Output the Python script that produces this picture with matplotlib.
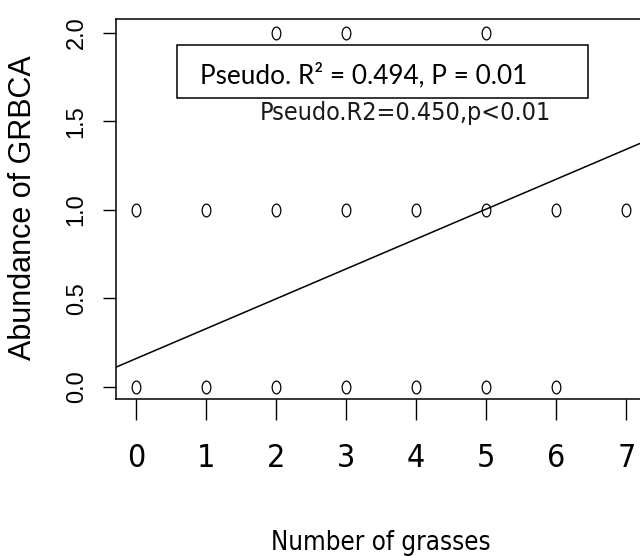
import matplotlib
matplotlib.use("Agg")
import matplotlib.pyplot as plt
from matplotlib.path import Path
from matplotlib.transforms import Affine2D
from matplotlib.patches import Rectangle
from matplotlib import font_manager as fm

# ---- data ----
grasses = [0, 1, 2, 3, 4, 5, 6, 0, 1, 2, 3, 4, 5, 6, 7, 2, 3, 5]
abundance = [0, 0, 0, 0, 0, 0, 0, 1, 1, 1, 1, 1, 1, 1, 1, 2, 2, 2]
fit_intercept = 0.16
fit_slope = 0.169
x_ticks = [0, 1, 2, 3, 4, 5, 6, 7]
y_ticks = [0.0, 0.5, 1.0, 1.5, 2.0]
y_tick_labels = ["0.0", "0.5", "1.0", "1.5", "2.0"]
x_label = "Number of grasses"
y_label = "Abundance of GRBCA"
box_text = "Pseudo. R\u00b2 = 0.494, P = 0.01"
fit_text = "Pseudo.R2=0.450,p<0.01"

NARROW = fm.FontProperties(family="DejaVu Sans", stretch="condensed")
ARIAL = ["Liberation Sans", "DejaVu Sans"]
CALIBRI = ["Lato", "DejaVu Sans"]

fig = plt.figure(figsize=(6.4, 5.56), dpi=100)
ax = fig.add_axes([0.18125, 0.2824, 0.828, 0.6835])

ell = Affine2D().scale(0.68, 1.0).transform_path(Path.unit_circle())
ax.plot(grasses, abundance, linestyle="none", marker=ell, markersize=9.2,
        markerfacecolor="none", markeredgecolor="black", markeredgewidth=0.9)

ax.axline((0, fit_intercept), slope=fit_slope, color="black", lw=1.1)

ax.set_xlim(-0.285, 7.278)
ax.set_ylim(-0.068, 2.079)

for s in ax.spines.values():
    s.set_linewidth(1.1)

def narrow(size):
    p = NARROW.copy()
    p.set_size(size)
    return p

ax.set_xticks(x_ticks)
ax.set_xticklabels([str(v) for v in x_ticks], fontproperties=narrow(23))
ax.set_yticks(y_ticks)
ax.set_yticklabels(y_tick_labels, family=ARIAL, fontsize=17, rotation=90, va="center")
ax.tick_params(axis="x", length=15, width=1.0, pad=17)
ax.tick_params(axis="y", length=9.4, width=1.0, pad=11)

ax.set_xlabel(x_label, fontproperties=narrow(18.5), va="baseline")
ax.xaxis.set_label_coords(0.5, -0.397)
ax.set_ylabel(y_label, family=ARIAL, fontsize=22, va="center")
ax.yaxis.set_label_coords(-0.176, 0.504)

ax.add_patch(Rectangle((0.1151, 0.7921), 0.8906 - 0.1151, 0.9316 - 0.7921,
                       transform=ax.transAxes, fill=False, edgecolor="black",
                       lw=1.1, clip_on=False, zorder=5))
ax.text(0.1585, 0.8316, box_text, transform=ax.transAxes, family=CALIBRI,
        fontsize=18.8, ha="left", va="baseline", color="black")

ax.text(0.547, 0.734, fit_text, transform=ax.transAxes, fontproperties=narrow(18),
        ha="center", va="baseline", color="#1a1a1a")

fig.savefig("out.png", dpi=100)
